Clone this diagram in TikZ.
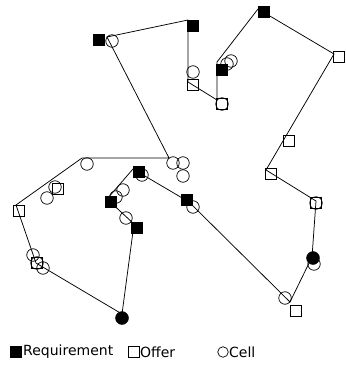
\documentclass[tikz,border=0pt]{standalone}
\usepackage{fontspec}
\setmainfont{DejaVu Sans}
\begin{document}
\begin{tikzpicture}[x=1pt,y=-1pt,
  req/.style={draw=black, fill=black, rectangle, minimum size=11.5pt, inner sep=0pt, line width=0.6pt},
  reqdot/.style={draw=black, fill=black, circle, minimum size=13pt, inner sep=0pt},
  off/.style={draw=black, rectangle, minimum size=11pt, inner sep=0pt, line width=0.8pt},
  cell/.style={draw=black, circle, minimum size=12.5pt, inner sep=0pt, line width=0.7pt},
  link/.style={line width=0.75pt, black},
  legtext/.style={anchor=west, inner sep=0pt, font=\fontsize{14}{16}\selectfont}]
\useasboundingbox (0,0) rectangle (345,379);
% tour vertices
\coordinate (p1) at (107,37);
\coordinate (p2) at (188,20);
\coordinate (p3) at (188,82);
\coordinate (p4) at (217,100);
\coordinate (p5) at (217,62);
\coordinate (p6) at (258,9);
\coordinate (p7) at (334,54);
\coordinate (p8) at (266,170);
\coordinate (p9) at (316,201);
\coordinate (p10) at (312,257);
\coordinate (p11) at (290,302);
\coordinate (p12) at (189,202);
\coordinate (p13) at (133,169);
\coordinate (p14) at (107,199);
\coordinate (p15) at (134,224);
\coordinate (p16) at (122,314);
\coordinate (p17) at (36,263);
\coordinate (p18) at (16,205);
\coordinate (p19) at (82,158);
\coordinate (p20) at (169,158);
\draw[link] (p1) -- (p2) -- (p3) -- (p4) -- (p5) -- (p6) -- (p7) -- (p8) -- (p9) -- (p10)
  -- (p11) -- (p12) -- (p13) -- (p14) -- (p15) -- (p16) -- (p17) -- (p18) -- (p19) -- (p20) -- cycle;
% markers
\node[req] (r1) at (99,40) {};
\node[cell] (c1) at (112,41) {};
\node[req] (r2) at (193,26) {};
\node[cell] (c2) at (193,72) {};
\node[off] (o2) at (193,85) {};
\node[off] (o3) at (222,104) {};
\node[cell] (c3) at (222,104) {};
\node[cell] (c4a) at (231,61) {};
\node[cell] (c4b) at (227,64) {};
\node[req] (r4) at (222,70) {};
\node[req] (r5) at (264,12) {};
\node[off] (o5) at (339,57) {};
\node[off] (o6) at (289,141) {};
\node[off] (o7) at (271,174) {};
\node[off] (o8) at (316,203) {};
\node[cell] (c8) at (316,203) {};
\node[cell] (c9) at (314,264) {};
\node[reqdot] (r9) at (313,258) {};
\node[cell] (c10) at (285,298) {};
\node[off] (o10) at (296,311) {};
\node[req] (r11) at (187,200) {};
\node[cell] (c11) at (193,207) {};
\node[req] (r12) at (139,172) {};
\node[cell] (c12) at (142,175) {};
\node[cell] (c13a) at (123,190) {};
\node[cell] (c13b) at (116,197) {};
\node[req] (r13) at (111,202) {};
\node[cell] (c14) at (126,218) {};
\node[req] (r14) at (137,228) {};
\node[reqdot] (r15) at (122,318) {};
\node[cell] (c16a) at (33,255) {};
\node[off] (o16) at (37,263) {};
\node[cell] (c16b) at (37,263) {};
\node[cell] (c16c) at (43,268) {};
\node[off] (o17) at (19,211) {};
\node[off] (o18) at (58,189) {};
\node[cell] (c18a) at (55,187) {};
\node[cell] (c18b) at (47,198) {};
\node[cell] (c19) at (87,164) {};
\node[cell] (c20a) at (173,163) {};
\node[cell] (c20b) at (183,163) {};
\node[cell] (c20c) at (183,176) {};
% legend
\node[req, minimum size=10.5pt] (lr) at (16,352) {};
\node[legtext] (lrt) at (23,352) {Requirement};
\node[off, minimum size=10.5pt, line width=0.7pt] (lo) at (134,352) {};
\node[legtext] (lot) at (140,352) {Offer};
\node[cell, minimum size=10.5pt] (lc) at (223,352) {};
\node[legtext] (lct) at (229,352) {Cell};
\end{tikzpicture}
\end{document}
